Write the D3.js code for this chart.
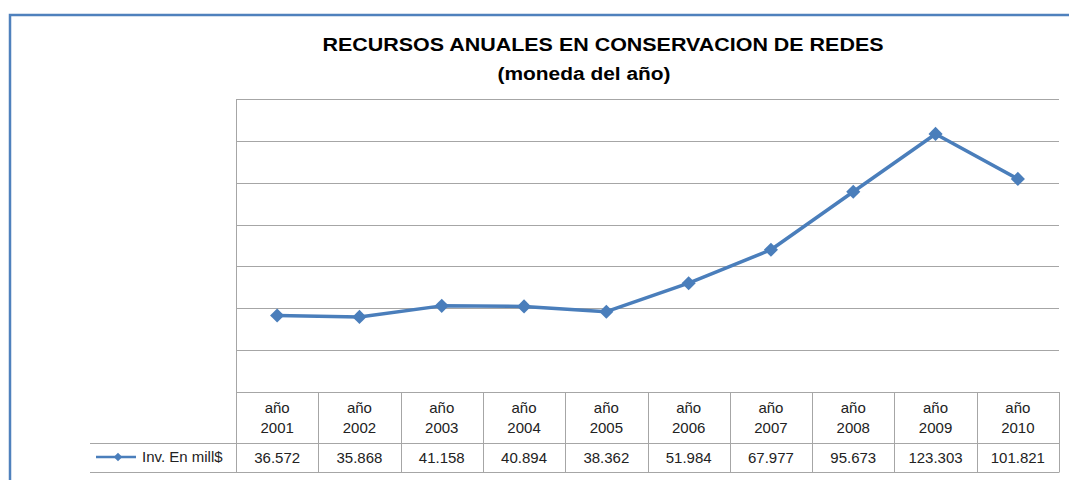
<!DOCTYPE html>
<html>
<head>
<meta charset="utf-8">
<script src="https://cdn.jsdelivr.net/npm/d3@7"></script>
<style>
  body { margin: 0; background: #fff; }
  svg { display: block; font-family: "Liberation Sans", Arial, sans-serif; }
</style>
</head>
<body>
<div id="grafico"></div>
<script>
// Datos del gráfico
const anios = ["2001", "2002", "2003", "2004", "2005", "2006", "2007", "2008", "2009", "2010"];
const inversion = [36572, 35868, 41158, 40894, 38362, 51984, 67977, 95673, 123303, 101821];
const etiquetasValor = ["36.572", "35.868", "41.158", "40.894", "38.362", "51.984", "67.977", "95.673", "123.303", "101.821"];
const yTicks = [0, 20000, 40000, 60000, 80000, 100000, 120000, 140000];
const serieNombre = "Inv. En mill$";

const width = 1069;
const height = 480;
const azul = "#4a7ebb";
const gris = "#a6a6a6";

const svg = d3.select("#grafico")
    .append("svg")
    .attr("width", width)
    .attr("height", height);

// Marco exterior
svg.append("path")
    .attr("d", "M10,480 L10,15 L1069,15")
    .attr("fill", "none")
    .attr("stroke", "#4f81bd")
    .attr("stroke-width", 2.5);

// Título
svg.append("text")
    .attr("x", 603).attr("y", 51)
    .attr("text-anchor", "middle")
    .attr("font-weight", "bold")
    .attr("font-size", 18)
    .attr("textLength", 561)
    .attr("lengthAdjust", "spacingAndGlyphs")
    .text("RECURSOS ANUALES EN CONSERVACION DE REDES");

svg.append("text")
    .attr("x", 584).attr("y", 80)
    .attr("text-anchor", "middle")
    .attr("font-weight", "bold")
    .attr("font-size", 18)
    .attr("textLength", 173)
    .attr("lengthAdjust", "spacingAndGlyphs")
    .text("(moneda del año)");

// Escalas
const x = d3.scaleBand().domain(anios).range([236, 1059]);
const y = d3.scaleLinear().domain([0, 140000]).range([392, 99]);

// Líneas de cuadrícula
svg.append("g")
    .selectAll("line")
    .data(yTicks)
    .enter()
    .append("line")
    .attr("x1", 236).attr("x2", 1059)
    .attr("y1", d => Math.round(y(d)) + 0.5)
    .attr("y2", d => Math.round(y(d)) + 0.5)
    .attr("stroke", gris)
    .attr("stroke-width", 1);

// Eje vertical izquierdo (hasta el final de la tabla)
svg.append("line")
    .attr("x1", 236.5).attr("x2", 236.5)
    .attr("y1", 99).attr("y2", 472)
    .attr("stroke", gris);

// Tabla de datos
const filaCab = 443;
const filaFin = 472;

svg.append("g")
    .selectAll("line")
    .data(anios.slice(1).concat(["fin"]))
    .enter()
    .append("line")
    .attr("x1", d => d === "fin" ? 1059.5 : Math.round(x(d)) + 0.5)
    .attr("x2", d => d === "fin" ? 1059.5 : Math.round(x(d)) + 0.5)
    .attr("y1", 392)
    .attr("y2", filaFin)
    .attr("stroke", gris);

[filaCab, filaFin].forEach(yy => {
    svg.append("line")
        .attr("x1", 90).attr("x2", 1059.5)
        .attr("y1", yy + 0.5).attr("y2", yy + 0.5)
        .attr("stroke", gris);
});

const cab = svg.append("g")
    .selectAll("text")
    .data(anios)
    .enter()
    .append("text")
    .attr("text-anchor", "middle")
    .attr("font-size", 15)
    .attr("fill", "#222");

cab.append("tspan")
    .attr("x", d => x(d) + x.bandwidth() / 2)
    .attr("y", 413)
    .text("año");
cab.append("tspan")
    .attr("x", d => x(d) + x.bandwidth() / 2)
    .attr("y", 433)
    .text(d => d);

svg.append("g")
    .selectAll("text")
    .data(anios)
    .enter()
    .append("text")
    .attr("x", d => x(d) + x.bandwidth() / 2)
    .attr("y", 463)
    .attr("text-anchor", "middle")
    .attr("font-size", 15)
    .attr("fill", "#222")
    .text((d, i) => etiquetasValor[i]);

// Leyenda en la tabla
svg.append("line")
    .attr("x1", 96).attr("x2", 136)
    .attr("y1", 457).attr("y2", 457)
    .attr("stroke", azul).attr("stroke-width", 2.5);
svg.append("path")
    .attr("d", d3.symbol().type(d3.symbolSquare).size(36))
    .attr("transform", "translate(118,457) rotate(45)")
    .attr("fill", azul);
svg.append("text")
    .attr("x", 142).attr("y", 462)
    .attr("font-size", 15)
    .attr("fill", "#222")
    .text(serieNombre);

// Serie
const linea = d3.line()
    .x((d, i) => x(anios[i]) + x.bandwidth() / 2)
    .y(d => y(d));

svg.append("path")
    .datum(inversion)
    .attr("d", linea)
    .attr("fill", "none")
    .attr("stroke", azul)
    .attr("stroke-width", 3.5)
    .attr("stroke-linejoin", "round");

svg.append("g")
    .selectAll("path")
    .data(inversion)
    .enter()
    .append("path")
    .attr("d", d3.symbol().type(d3.symbolSquare).size(100))
    .attr("transform", (d, i) => `translate(${x(anios[i]) + x.bandwidth() / 2},${y(d)}) rotate(45)`)
    .attr("fill", azul);
</script>
</body>
</html>
